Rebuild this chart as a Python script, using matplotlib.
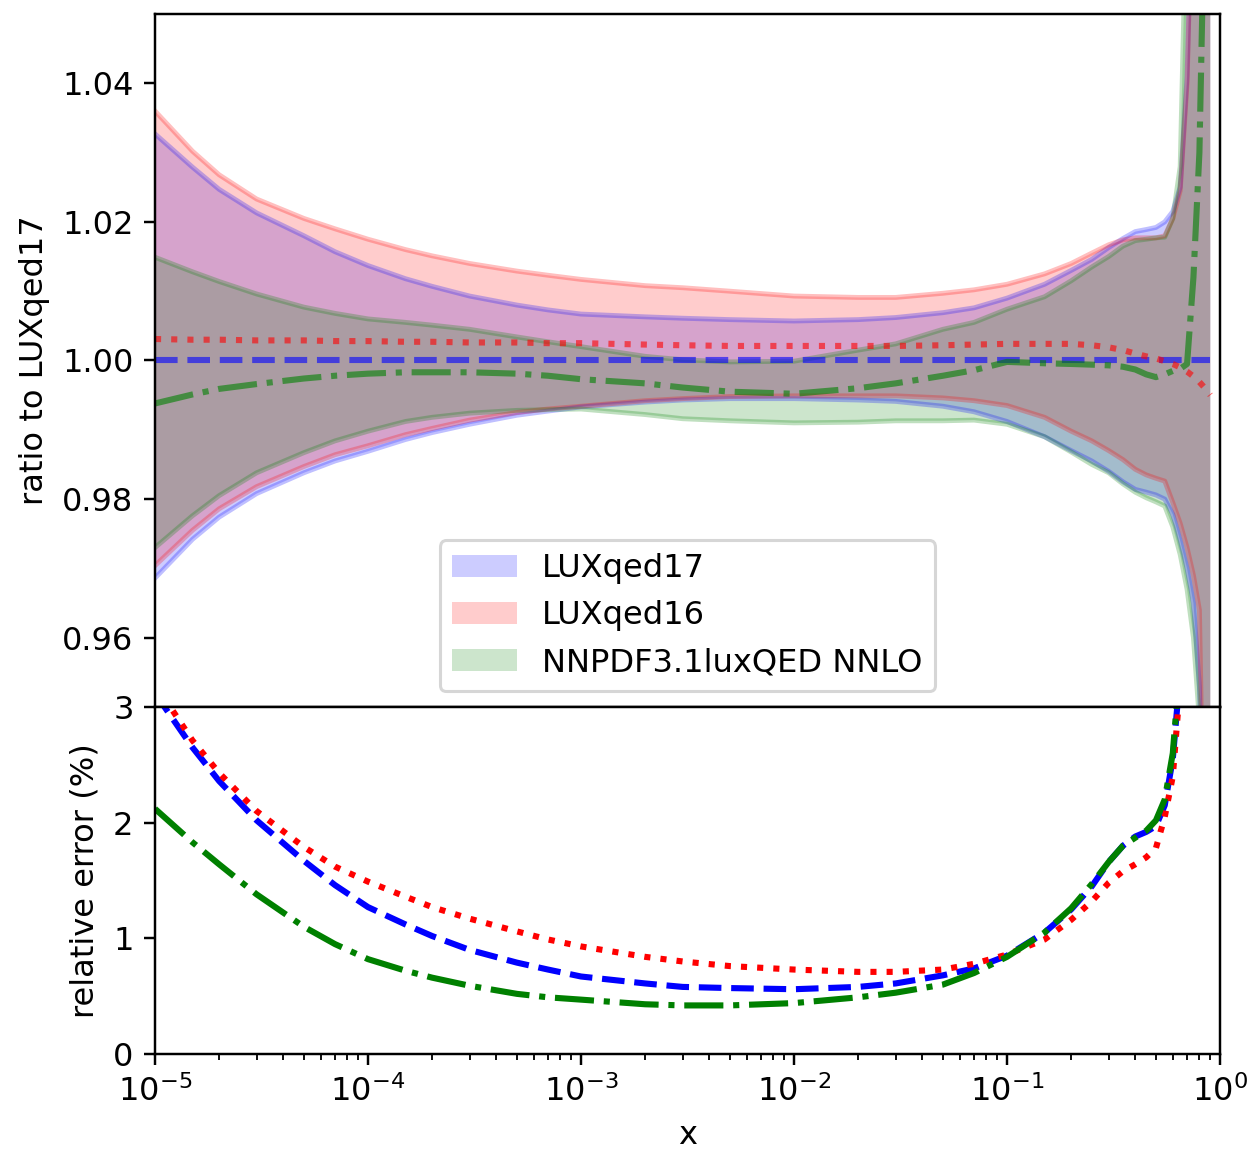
import numpy as np
import matplotlib.pyplot as plt

# x grid shared by all curves
x = [1e-5, 1.5e-5, 2e-5, 3e-5, 5e-5, 7e-5, 1e-4, 1.5e-4, 2e-4, 3e-4, 5e-4, 7e-4,
     1e-3, 2e-3, 3e-3, 5e-3, 1e-2, 2e-2, 3e-2, 5e-2, 0.07, 0.1, 0.15, 0.2, 0.25,
     0.3, 0.35, 0.4, 0.45, 0.5, 0.55, 0.6, 0.65, 0.7, 0.75, 0.8, 0.85, 0.9]

# ratio to LUXqed17: band edges and central values
lux17_up = [1.0327, 1.0279, 1.0247, 1.0213, 1.0180, 1.0157, 1.0137, 1.0118, 1.0107, 1.0093,
            1.0080, 1.0073, 1.0067, 1.0063, 1.0061, 1.0059, 1.0057, 1.0059, 1.0062, 1.0069,
            1.0076, 1.0090, 1.0110, 1.0130, 1.0146, 1.0163, 1.0176, 1.0186, 1.0189, 1.0192,
            1.0200, 1.0215, 1.0250, 1.0410, 1.0750, 1.12, 1.20, 1.30]
lux17_lo = [0.9686, 0.9742, 0.9774, 0.9808, 0.9838, 0.9855, 0.9869, 0.9886, 0.9896, 0.9908,
            0.9921, 0.9927, 0.9933, 0.9940, 0.9943, 0.9945, 0.9945, 0.9943, 0.9941, 0.9934,
            0.9926, 0.9912, 0.9890, 0.9870, 0.9855, 0.9840, 0.9825, 0.9814, 0.9810, 0.9806,
            0.9800, 0.9778, 0.9740, 0.9700, 0.9650, 0.9530, 0.92, 0.85]

lux16_cen = [1.0031, 1.0030, 1.0030, 1.0029, 1.0029, 1.0028, 1.0028, 1.0027, 1.0027, 1.0026,
             1.0026, 1.0025, 1.0025, 1.0023, 1.0022, 1.0021, 1.0021, 1.0021, 1.0021, 1.0022,
             1.0023, 1.0024, 1.0024, 1.0024, 1.0022, 1.0019, 1.0015, 1.0010, 1.0006, 1.0003,
             0.9999, 0.9995, 0.9990, 0.9984, 0.9977, 0.9969, 0.9960, 0.9950]
lux16_up = [1.0360, 1.0302, 1.0268, 1.0233, 1.0205, 1.0190, 1.0175, 1.0160, 1.0151, 1.0140,
            1.0129, 1.0123, 1.0117, 1.0108, 1.0105, 1.0100, 1.0093, 1.0091, 1.0091, 1.0097,
            1.0102, 1.0110, 1.0125, 1.0140, 1.0155, 1.0167, 1.0174, 1.0177, 1.0177, 1.0177,
            1.0180, 1.0205, 1.0245, 1.0400, 1.0750, 1.12, 1.20, 1.30]
lux16_lo = [0.9704, 0.9755, 0.9786, 0.9818, 0.9847, 0.9864, 0.9877, 0.9893, 0.9902, 0.9914,
            0.9925, 0.9930, 0.9934, 0.9942, 0.9945, 0.9948, 0.9949, 0.9949, 0.9949, 0.9946,
            0.9942, 0.9935, 0.9918, 0.9898, 0.9884, 0.9870, 0.9857, 0.9843, 0.9835, 0.9830,
            0.9826, 0.9795, 0.9765, 0.9730, 0.9690, 0.9640, 0.92, 0.86]

nnpdf_cen = [0.9938, 0.9951, 0.9959, 0.9966, 0.9974, 0.9978, 0.9981, 0.9983, 0.9983, 0.9983,
             0.9981, 0.9978, 0.9973, 0.9967, 0.9961, 0.9955, 0.9952, 0.9960, 0.9967, 0.9978,
             0.9986, 0.9998, 0.9996, 0.9995, 0.9994, 0.9993, 0.9991, 0.9987, 0.9980, 0.9976,
             0.9980, 0.9985, 0.9988, 0.9995, 1.0120, 1.0300, 1.07, 1.15]
nnpdf_up = [1.0149, 1.0128, 1.0114, 1.0096, 1.0077, 1.0068, 1.0060, 1.0055, 1.0051, 1.0045,
            1.0034, 1.0027, 1.0020, 1.0006, 1.0001, 0.9998, 0.9999, 1.0015, 1.0024, 1.0045,
            1.0055, 1.0074, 1.0092, 1.0115, 1.0135, 1.0150, 1.0165, 1.0173, 1.0175, 1.0177,
            1.0178, 1.0205, 1.0280, 1.07, 1.12, 1.20, 1.30, 1.40]
nnpdf_lo = [0.9730, 0.9776, 0.9805, 0.9838, 0.9867, 0.9884, 0.9898, 0.9912, 0.9918, 0.9924,
            0.9928, 0.9929, 0.9930, 0.9922, 0.9916, 0.9913, 0.9910, 0.9911, 0.9913, 0.9913,
            0.9914, 0.9908, 0.9890, 0.9868, 0.9850, 0.9838, 0.9822, 0.9810, 0.9802, 0.9796,
            0.9790, 0.9760, 0.9720, 0.9670, 0.9600, 0.9480, 0.92, 0.85]

# relative errors in percent
err17 = [3.12, 2.65, 2.36, 2.02, 1.67, 1.46, 1.27, 1.12, 1.02, 0.90, 0.79, 0.73, 0.67, 0.61,
         0.58, 0.57, 0.56, 0.58, 0.61, 0.68, 0.74, 0.85, 1.05, 1.25, 1.45, 1.66, 1.80, 1.88,
         1.92, 1.97, 2.15, 2.55, 3.3, 4.5, 6.0, 8.0, 10.0, 12.0]
err16 = [3.20, 2.71, 2.43, 2.10, 1.79, 1.62, 1.49, 1.36, 1.27, 1.17, 1.06, 0.99, 0.93, 0.84,
         0.80, 0.76, 0.73, 0.71, 0.71, 0.73, 0.78, 0.86, 0.99, 1.16, 1.32, 1.48, 1.58, 1.64,
         1.70, 1.78, 2.05, 2.40, 3.2, 4.5, 6.0, 8.0, 10.0, 12.0]
errnn = [2.12, 1.83, 1.64, 1.38, 1.10, 0.95, 0.82, 0.72, 0.66, 0.59, 0.52, 0.49, 0.47, 0.43,
         0.42, 0.42, 0.44, 0.49, 0.53, 0.60, 0.70, 0.84, 1.05, 1.26, 1.47, 1.66, 1.80, 1.87,
         1.93, 2.02, 2.20, 2.60, 3.4, 4.6, 6.0, 8.0, 10.0, 12.0]

plt.rcParams['font.size'] = 10.5

fig = plt.figure(figsize=(1253 / 220, 1150 / 220), dpi=220)
ax1 = fig.add_axes([0.1237, 0.38522, 0.85, 0.60261])
ax2 = fig.add_axes([0.1237, 0.08348, 0.85, 0.30174], sharex=ax1)

bands = [
    (lux17_lo, lux17_up, 'b', 'LUXqed17'),
    (lux16_lo, lux16_up, 'r', 'LUXqed16'),
    (nnpdf_lo, nnpdf_up, 'g', 'NNPDF3.1luxQED NNLO'),
]
for lo, up, c, lab in bands:
    ax1.fill_between(x, lo, up, color=c, alpha=0.2, lw=0, label=lab)
    ax1.plot(x, up, color=c, alpha=0.25, lw=1.6)
    ax1.plot(x, lo, color=c, alpha=0.25, lw=1.6)

ax1.plot(x, np.ones(len(x)), 'b--', alpha=0.6, lw=2)
ax1.plot(x, lux16_cen, 'r:', alpha=0.6, lw=2)
ax1.plot(x, nnpdf_cen, 'g-.', alpha=0.6, lw=2)

ax1.set_xscale('log')
ax1.set_xlim(1e-5, 1)
ax1.set_ylim(0.95, 1.05)
ax1.set_yticks([0.96, 0.98, 1.00, 1.02, 1.04])
ax1.set_ylabel('ratio to LUXqed17')
ax1.tick_params(axis='x', which='both', bottom=False, labelbottom=False)
ax1.legend(loc='lower center')

ax2.plot(x, err17, 'b--', lw=2)
ax2.plot(x, err16, 'r:', lw=2)
ax2.plot(x, errnn, 'g-.', lw=2)
ax2.set_ylim(0, 3)
ax2.set_yticks([0, 1, 2, 3])
ax2.set_ylabel('relative error (%)')
ax2.set_xlabel('x')

fig.savefig('out.png', dpi=220)
